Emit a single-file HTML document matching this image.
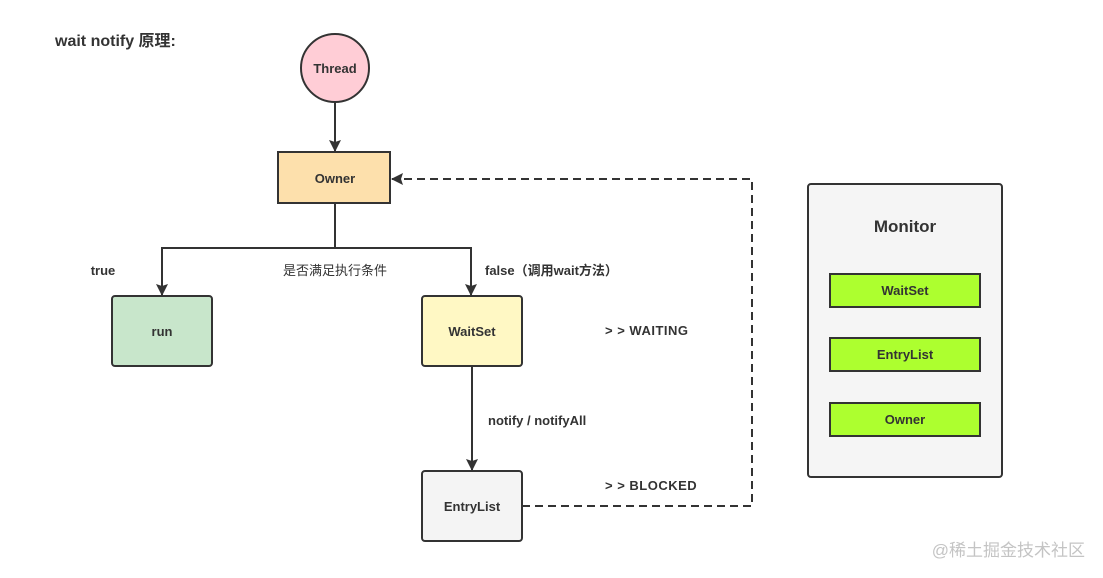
<!DOCTYPE html>
<html><head><meta charset="utf-8"><style>
html,body{margin:0;padding:0;background:#fff;}
svg{display:block;}
text{font-family:"Liberation Sans","Noto Sans CJK SC",sans-serif;font-weight:bold;fill:#333;}
</style></head><body>
<svg width="1103" height="578" viewBox="0 0 1103 578" xmlns="http://www.w3.org/2000/svg">
<defs>
<marker id="ah" markerWidth="12" markerHeight="14" refX="11" refY="6" orient="auto" markerUnits="userSpaceOnUse">
<path d="M0,0 L12,6 L0,12 L2,6 Z" fill="#333"/>
</marker>
</defs>
<text x="55" y="46" font-size="16">wait notify 原理:</text>
<circle cx="335" cy="68" r="34" fill="#ffcdd6" stroke="#333" stroke-width="2"/>
<text x="335" y="73" font-size="13" text-anchor="middle">Thread</text>
<line x1="335" y1="102" x2="335" y2="151" stroke="#333" stroke-width="2" marker-end="url(#ah)"/>
<rect x="278" y="152" width="112" height="51" fill="#fde0ac" stroke="#333" stroke-width="2"/>
<text x="335" y="183" font-size="13" text-anchor="middle">Owner</text>
<polyline points="335,203 335,248 162,248 162,295" fill="none" stroke="#333" stroke-width="2" marker-end="url(#ah)"/>
<polyline points="335,248 471,248 471,295" fill="none" stroke="#333" stroke-width="2" marker-end="url(#ah)"/>
<text x="103" y="275" font-size="13" text-anchor="middle">true</text>
<text x="335" y="275" font-size="13" text-anchor="middle" style="font-weight:normal">是否满足执行条件</text>
<text x="485" y="275" font-size="13">false（调用wait方法）</text>
<rect x="112" y="296" width="100" height="70" rx="3" fill="#c8e6cb" stroke="#333" stroke-width="2"/>
<text x="162" y="336" font-size="13" text-anchor="middle">run</text>
<rect x="422" y="296" width="100" height="70" rx="3" fill="#fff8c4" stroke="#333" stroke-width="2"/>
<text x="472" y="336" font-size="13" text-anchor="middle">WaitSet</text>
<text x="605" y="335" font-size="13" letter-spacing="0.5">&gt; &gt; WAITING</text>
<line x1="472" y1="366" x2="472" y2="470" stroke="#333" stroke-width="2" marker-end="url(#ah)"/>
<text x="488" y="425" font-size="13">notify / notifyAll</text>
<rect x="422" y="471" width="100" height="70" rx="3" fill="#f4f4f4" stroke="#333" stroke-width="2"/>
<text x="472" y="511" font-size="13" text-anchor="middle">EntryList</text>
<text x="605" y="490" font-size="13" letter-spacing="0.5">&gt; &gt; BLOCKED</text>
<polyline points="522,506 752,506 752,179 392,179" fill="none" stroke="#333" stroke-width="2" stroke-dasharray="8,5" marker-end="url(#ah)"/>
<rect x="808" y="184" width="194" height="293" rx="3" fill="#f5f5f5" stroke="#333" stroke-width="2"/>
<text x="905" y="232" font-size="17" text-anchor="middle">Monitor</text>
<rect x="830" y="274" width="150" height="33" fill="#adff2f" stroke="#333" stroke-width="2"/>
<text x="905" y="295" font-size="13" text-anchor="middle">WaitSet</text>
<rect x="830" y="338" width="150" height="33" fill="#adff2f" stroke="#333" stroke-width="2"/>
<text x="905" y="359" font-size="13" text-anchor="middle">EntryList</text>
<rect x="830" y="403" width="150" height="33" fill="#adff2f" stroke="#333" stroke-width="2"/>
<text x="905" y="424" font-size="13" text-anchor="middle">Owner</text>
<text x="1085" y="556" font-size="17" text-anchor="end" style="font-weight:normal;fill:#c4c4c4">@稀土掘金技术社区</text>
</svg>
</body></html>
